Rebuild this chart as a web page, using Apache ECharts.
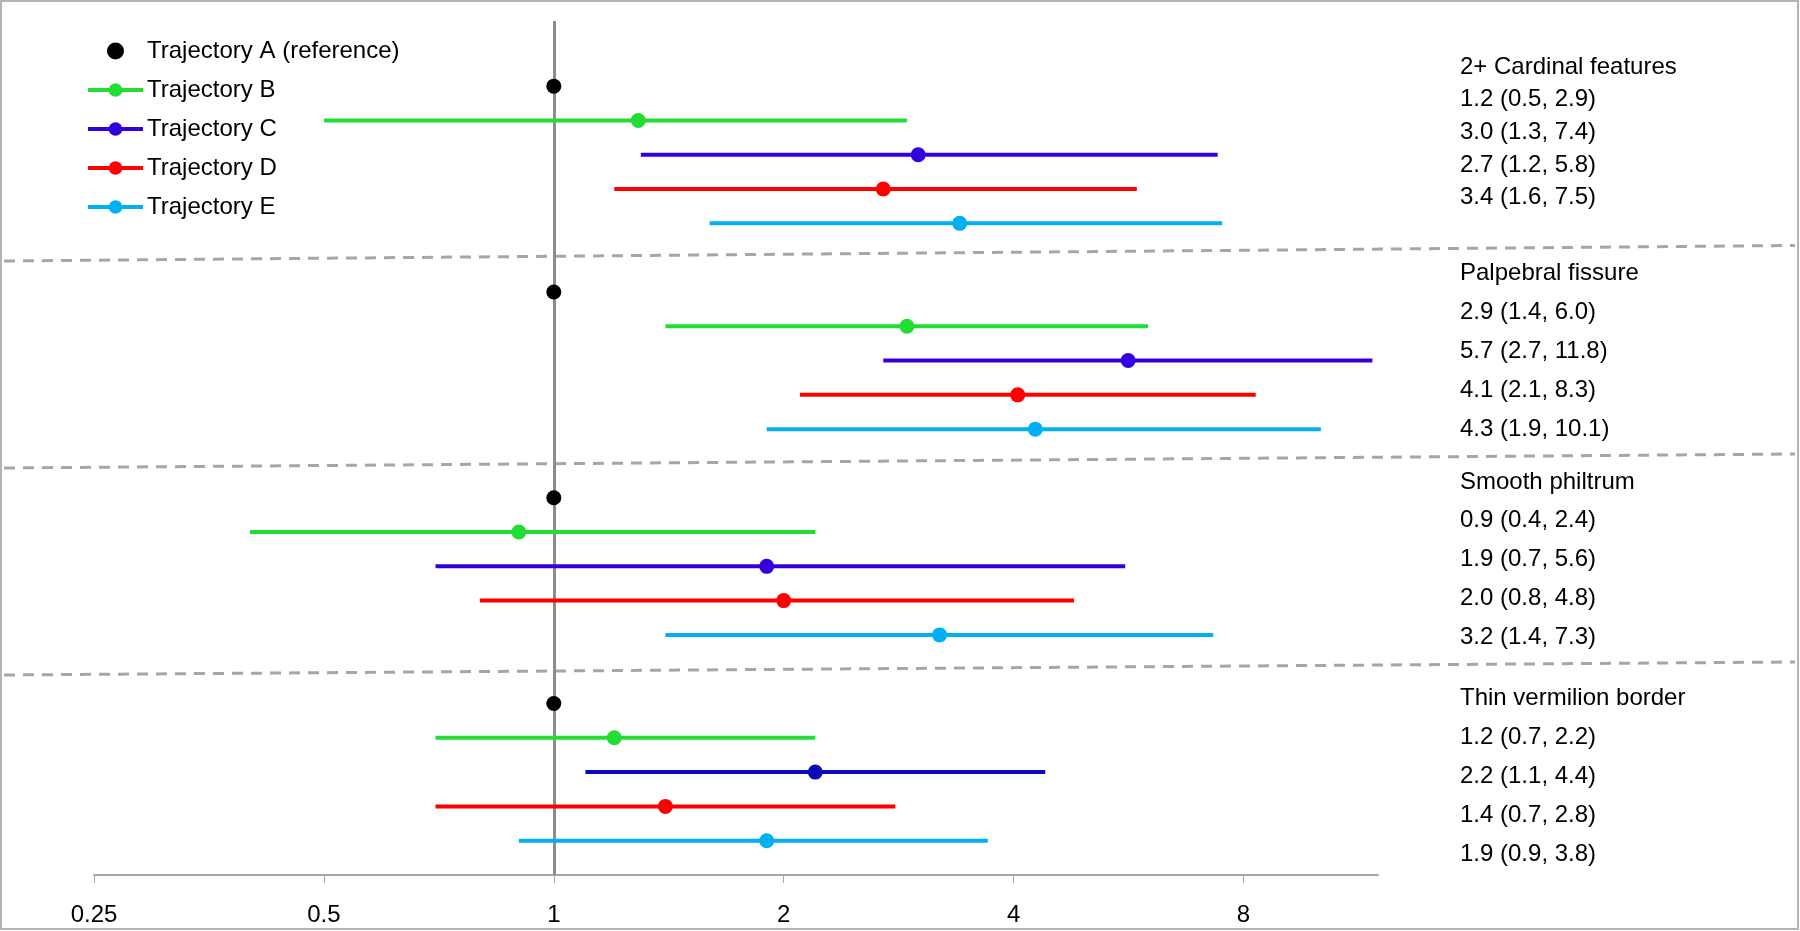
<!DOCTYPE html>
<html>
<head>
<meta charset="utf-8">
<script src="https://cdn.jsdelivr.net/npm/echarts@6/dist/echarts.min.js"></script>
<style>
html,body{margin:0;padding:0;background:#fff;}
#chart{width:1800px;height:931px;}
</style>
</head>
<body>
<div id="chart"></div>
<script>
// ---- data ----
var groups = ['2+ Cardinal features', 'Palpebral fissure', 'Smooth philtrum', 'Thin vermilion border'];
var trajectories = ['Trajectory B', 'Trajectory C', 'Trajectory D', 'Trajectory E'];
var referenceName = 'Trajectory A (reference)';
var referenceValue = 1;
// point estimates per trajectory (B..E), one per group
var estB = [1.29, 2.9, 0.9, 1.2];
var estC = [3.0, 5.65, 1.9, 2.2];
var estD = [2.7, 4.05, 2.0, 1.4];
var estE = [3.4, 4.27, 3.2, 1.9];
// lower bounds
var loB = [0.5, 1.4, 0.4, 0.7];
var loC = [1.3, 2.7, 0.7, 1.1];
var loD = [1.2, 2.1, 0.8, 0.7];
var loE = [1.6, 1.9, 1.4, 0.9];
// upper bounds
var hiB = [2.9, 6.0, 2.2, 2.2];
var hiC = [7.4, 11.8, 5.6, 4.4];
var hiD = [5.8, 8.3, 4.8, 2.8];
var hiE = [7.5, 10.1, 7.3, 3.7];
// text labels on the right
var labelsCardinal = ['1.2 (0.5, 2.9)', '3.0 (1.3, 7.4)', '2.7 (1.2, 5.8)', '3.4 (1.6, 7.5)'];
var labelsPalpebral = ['2.9 (1.4, 6.0)', '5.7 (2.7, 11.8)', '4.1 (2.1, 8.3)', '4.3 (1.9, 10.1)'];
var labelsSmooth = ['0.9 (0.4, 2.4)', '1.9 (0.7, 5.6)', '2.0 (0.8, 4.8)', '3.2 (1.4, 7.3)'];
var labelsThin = ['1.2 (0.7, 2.2)', '2.2 (1.1, 4.4)', '1.4 (0.7, 2.8)', '1.9 (0.9, 3.8)'];
var xTicks = [0.25, 0.5, 1, 2, 4, 8];

// ---- styles ----
var colors = ['#22dd33', '#3300dd', '#ff0000', '#00b0f0'];
var thinCColor = '#0a0ab8';
var FONT = '"Liberation Sans", Arial, sans-serif';

var est = [estB, estC, estD, estE];
var lo = [loB, loC, loD, loE];
var hi = [hiB, hiC, hiD, hiE];
var groupLabels = [labelsCardinal, labelsPalpebral, labelsSmooth, labelsThin];

function rowIndex(g, r) { return g * 6 + r; } // r: 0 = A, 1..4 = B..E

var series = [];
series.push({
  name: referenceName,
  type: 'scatter',
  symbol: 'circle',
  symbolSize: 15,
  z: 5,
  itemStyle: {color: '#000', opacity: 1},
  data: groups.map(function (g, gi) { return [referenceValue, rowIndex(gi, 0)]; }),
  markLine: {
    silent: true,
    symbol: ['none', 'none'],
    label: {show: false},
    z: 1,
    lineStyle: {color: '#8c8c8c', width: 3, type: 'solid'},
    data: [{xAxis: referenceValue}]
  }
});
trajectories.forEach(function (name, ti) {
  groups.forEach(function (g, gi) {
    series.push({
      name: name,
      type: 'line',
      symbol: 'circle',
      showSymbol: false,
      z: 3,
      lineStyle: {color: (ti === 1 && gi === 3) ? thinCColor : colors[ti], width: 4},
      itemStyle: {color: colors[ti], opacity: 1},
      data: [[lo[ti][gi], rowIndex(gi, ti + 1)], [hi[ti][gi], rowIndex(gi, ti + 1)]]
    });
  });
});
trajectories.forEach(function (name, ti) {
  series.push({
    name: name,
    type: 'scatter',
    symbol: 'circle',
    symbolSize: 15,
    z: 6,
    itemStyle: {color: colors[ti], opacity: 1},
    data: groups.map(function (g, gi) {
      var item = {value: [est[ti][gi], rowIndex(gi, ti + 1)]};
      if (ti === 1 && gi === 3) item.itemStyle = {color: thinCColor, opacity: 1};
      return item;
    })
  });
});

// ---- graphics: frame, dashed separators, right-hand text ----
var graphics = [];
graphics.push({type: 'rect', silent: true, z: -1,
  shape: {x: 1, y: 1, width: 1797, height: 928},
  style: {fill: 'none', stroke: '#b4b4b4', lineWidth: 2}});
var seps = [[261, 245.5], [468, 454], [675, 662]];
seps.forEach(function (s) {
  graphics.push({type: 'line', silent: true,
    shape: {x1: 4, y1: s[0], x2: 1795, y2: s[1]},
    style: {stroke: '#a6a6a6', lineWidth: 3, lineDash: [11, 8]}});
});
var headerY = [67, 273, 482, 698];
var lineGap = [32.7, 39, 38.8, 39];
groups.forEach(function (g, gi) {
  var lines = [g].concat(groupLabels[gi]);
  lines.forEach(function (t, li) {
    graphics.push({type: 'text', silent: true,
      x: 1460, y: headerY[gi] + li * lineGap[gi],
      style: {text: t, fill: '#000', fontSize: 24, fontFamily: FONT, verticalAlign: 'middle', align: 'left'}});
  });
});

var chart = echarts.init(document.getElementById('chart'));
chart.setOption({
  animation: false,
  backgroundColor: '#fff',
  grid: {left: 94, right: 422, top: 21, bottom: 56, containLabel: false},
  legend: {
    orient: 'vertical',
    left: 81,
    top: 34,
    selectedMode: false,
    itemWidth: 55,
    itemHeight: 17,
    itemGap: 15,
    lineStyle: {width: 4},
    itemStyle: {opacity: 1},
    textStyle: {fontSize: 24, fontFamily: FONT, color: '#000', padding: [0, 0, 0, -1]},
    data: [referenceName].concat(trajectories)
  },
  xAxis: {
    type: 'log',
    logBase: 2,
    min: 0.25,
    max: 12,
    splitLine: {show: false},
    axisLine: {show: true, onZero: false, lineStyle: {color: '#a6a6a6', width: 2}},
    axisTick: {show: true, inside: false, length: 8, lineStyle: {color: '#a6a6a6', width: 1}, customValues: xTicks},
    axisLabel: {
      fontSize: 24, fontFamily: FONT, color: '#000', margin: 28,
      customValues: xTicks,
      formatter: function (v) { return xTicks.indexOf(+v.toPrecision(6)) >= 0 ? String(+v.toPrecision(6)) : ''; }
    }
  },
  yAxis: {
    type: 'value',
    min: -1.9,
    max: 23,
    inverse: true,
    show: false
  },
  series: series,
  graphic: graphics
});
</script>
</body>
</html>
